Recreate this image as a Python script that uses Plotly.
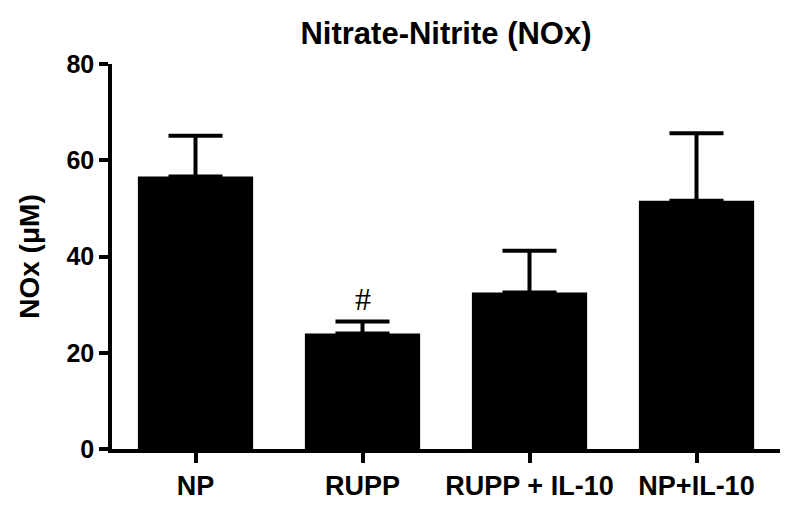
import plotly.graph_objects as go

categories = ["NP", "RUPP", "RUPP + IL-10", "NP+IL-10"]
means = [56.6, 24.0, 32.5, 51.6]
sem = [8.5, 2.5, 8.7, 14.0]
y_ticks = [0, 20, 40, 60, 80]

FONT = "Liberation Sans, Arial, sans-serif"

fig = go.Figure()
fig.add_trace(go.Bar(
    x=categories, y=means,
    marker=dict(color="black", line=dict(color="black", width=0)),
    error_y=dict(type="data", symmetric=False, array=sem, arrayminus=[0] * len(sem),
                 color="black", thickness=4, width=27),
    showlegend=False,
))

fig.add_annotation(x="RUPP", y=means[1] + sem[1], text="#", showarrow=False,
                   yanchor="bottom", yshift=2,
                   font=dict(family="Liberation Serif, serif", size=32, color="black"))

fig.update_layout(
    width=800, height=510,
    margin=dict(l=104, r=28, t=56, b=69),
    paper_bgcolor="white", plot_bgcolor="white",
    bargap=0.31,
    title=dict(text="Nitrate-Nitrite (NOx)", x=0.5, xanchor="center", y=0.951, yanchor="middle",
               xref="paper",
               font=dict(family=FONT, size=31, color="black", weight="bold")),
    font=dict(family=FONT, color="black"),
)
fig.update_xaxes(
    range=[-0.5, 3.5], showline=True, linecolor="black", linewidth=3.5,
    ticks="outside", ticklen=10, tickwidth=3.5, tickcolor="black",
    tickfont=dict(family=FONT, size=27, color="black", weight="bold"),
    showgrid=False, zeroline=False,
)
fig.update_yaxes(
    range=[0, 80], tickvals=y_ticks, showline=True, linecolor="black", linewidth=3.5,
    ticks="outside", ticklen=9, tickwidth=3.5, tickcolor="black",
    tickfont=dict(family=FONT, size=25, color="black", weight="bold"),
    title=dict(text="NOx (μM)", font=dict(family=FONT, size=28, color="black", weight="bold"),
               standoff=20),
    showgrid=False, zeroline=False,
)

fig.write_html("out.html")
